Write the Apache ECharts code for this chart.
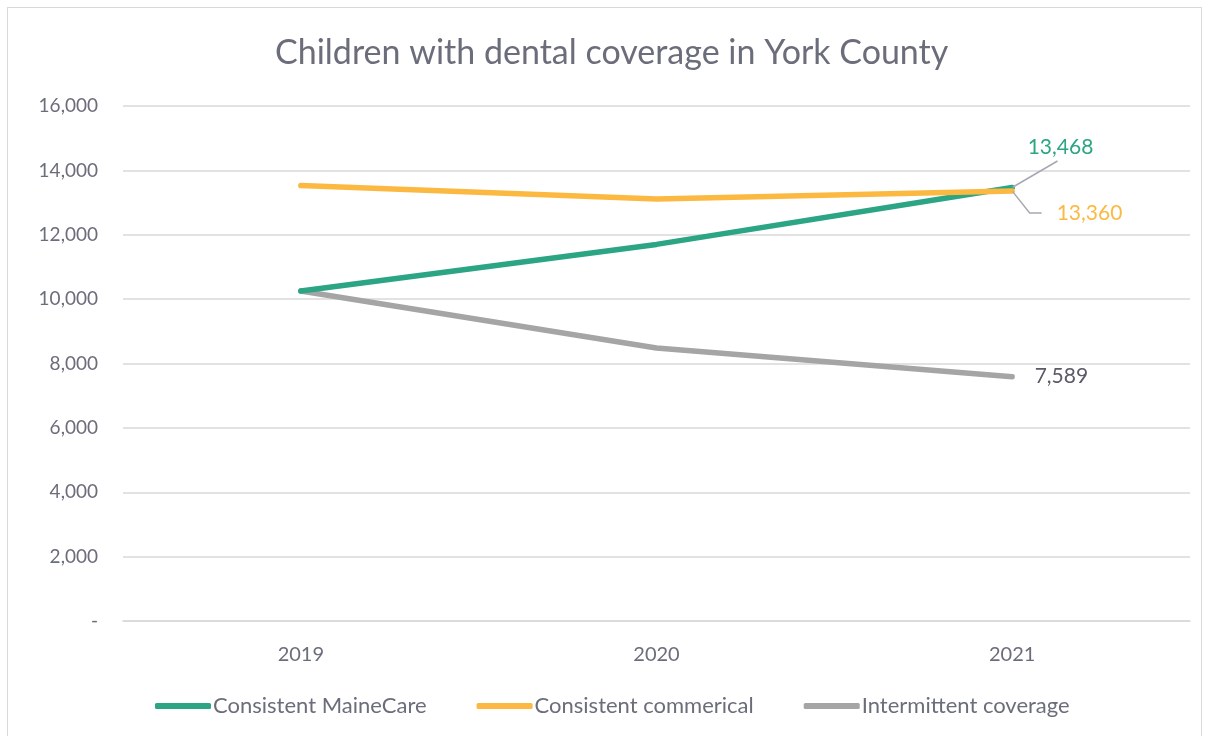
<!DOCTYPE html>
<html><head><meta charset="utf-8">
<script src="https://cdn.jsdelivr.net/npm/echarts@6/dist/echarts.min.js"></script>
<style>
html,body{margin:0;padding:0;background:#fff;}
#frame{position:absolute;left:7px;top:7px;width:1195px;height:740px;border:1.5px solid #D9D9D9;box-sizing:border-box;}
#c{position:absolute;left:0;top:0;width:1207px;height:736px;}
</style></head>
<body>
<div id="frame"></div>
<div id="c"></div>
<script>
const categories = ['2019', '2020', '2021'];
const seriesNames = ['Consistent MaineCare', 'Consistent commerical', 'Intermittent coverage'];
const maineCare = [10250, 11700, 13468];
const commercial = [13530, 13110, 13360];
const intermittent = [10250, 8480, 7589];
const yTicks = [0, 2000, 4000, 6000, 8000, 10000, 12000, 14000, 16000];

const txt = '#6B6D7A';
const font = 'Lato, "Open Sans", sans-serif';
const chart = echarts.init(document.getElementById('c'));
function fmt(v){ return v === 0 ? '-' : v.toLocaleString('en-US'); }

// only the last point of each series carries a value label
function withEndLabel(values, label, labelLine){
  return values.map((v, i) => i === values.length - 1
    ? { value: v, label: Object.assign({ show: true }, label), labelLine: labelLine || { show: false } }
    : { value: v, label: { show: false }, labelLine: { show: false } });
}
const baseLabel = { fontSize: 21, fontFamily: font, position: 'right', distance: 0, formatter: p => fmt(p.value) };
const guide = { color: '#A8A8B4', width: 1.5 };
const clearBg = 'rgba(255,255,255,0)';

chart.setOption({
  animation: false,
  title: {
    text: 'Children with dental coverage in York County',
    left: 270, top: 31,
    textStyle: { color: txt, fontSize: 34, fontWeight: 'normal', fontFamily: font }
  },
  legend: {
    bottom: 14, left: 150,
    itemWidth: 56, itemHeight: 6, itemGap: 50,
    textStyle: { color: txt, fontSize: 22, fontFamily: font, padding: [0,0,0,-3] },
    data: seriesNames.map(n => ({ name: n, icon: 'roundRect' }))
  },
  grid: { left: 123, right: 17, top: 106, bottom: 115, containLabel: false },
  xAxis: {
    type: 'category', data: categories, boundaryGap: true,
    axisLine: { lineStyle: { color: '#D9D9D9', width: 1.5 } },
    axisTick: { show: false },
    axisLabel: { color: txt, fontSize: 20, fontFamily: font, margin: 24 }
  },
  yAxis: {
    type: 'value', min: yTicks[0], max: yTicks[yTicks.length-1], interval: 2000,
    axisLine: { show: false }, axisTick: { show: false },
    splitLine: { lineStyle: { color: '#D9D9D9', width: 1.5 } },
    axisLabel: { color: txt, fontSize: 19, fontFamily: font, margin: 25, formatter: fmt }
  },
  series: [
    {
      name: seriesNames[0], type: 'line', showSymbol: true, symbol: 'circle', symbolSize: 1,
      data: withEndLabel(maineCare,
        Object.assign({}, baseLabel, { color: '#2BA584', padding: [0, 54, 6, 60], backgroundColor: clearBg }),
        { show: true, lineStyle: guide }),
      lineStyle: { color: '#2BA584', width: 5.5, cap: 'round' }, itemStyle: { color: '#2BA584' },
      labelLayout: p => p.dataIndex === 2 ? { dx: -45, dy: -40 } : {},
      z: 2
    },
    {
      name: seriesNames[1], type: 'line', showSymbol: true, symbol: 'circle', symbolSize: 1,
      data: withEndLabel(commercial,
        Object.assign({}, baseLabel, { color: '#FBB942', padding: [0, 0, 0, 15], backgroundColor: clearBg }),
        { show: true, length2: 12, lineStyle: guide }),
      lineStyle: { color: '#FBB942', width: 5.5, cap: 'round' }, itemStyle: { color: '#FBB942' },
      labelLayout: p => p.dataIndex === 2 ? { dx: 29, dy: 22 } : {},
      z: 3
    },
    {
      name: seriesNames[2], type: 'line', showSymbol: true, symbol: 'circle', symbolSize: 1,
      data: withEndLabel(intermittent, Object.assign({}, baseLabel, { color: '#595B66', distance: 22 })),
      lineStyle: { color: '#A5A5A5', width: 5.5, cap: 'round' }, itemStyle: { color: '#A5A5A5' },
      z: 1
    }
  ]
});
</script>
</body></html>
